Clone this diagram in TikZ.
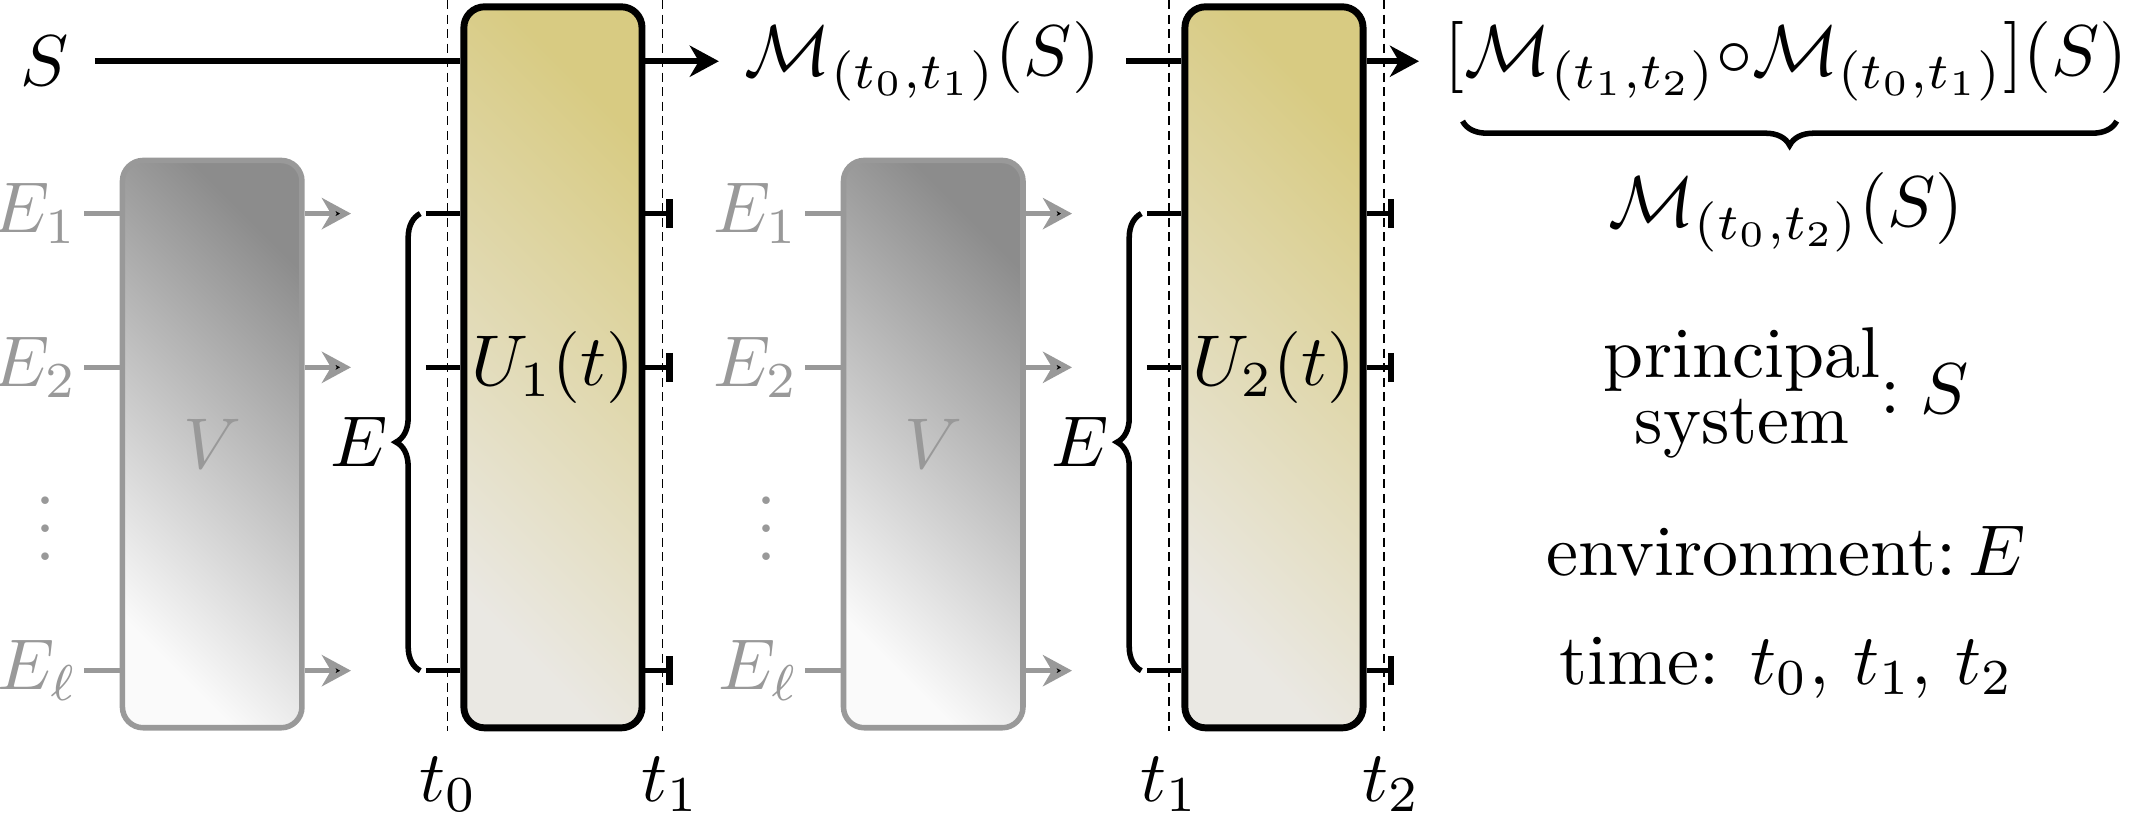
\RequirePackage{fix-cm}
\documentclass[tikz,border=0pt]{standalone}
\usepackage{amsmath,amssymb}
\usepackage{tikz}
\usepackage{xcolor}
\usetikzlibrary{arrows,arrows.meta}
\usetikzlibrary{shapes,backgrounds,decorations.pathreplacing}

\definecolor{ublock}{HTML}{D8CB82}
\definecolor{ublocklow}{HTML}{EAE8E3}
\definecolor{vblock}{HTML}{8C8C8C}
\definecolor{vblocklow}{HTML}{FAFAFA}
\definecolor{envgray}{HTML}{999999}

\begin{document}
\begin{tikzpicture}[-,>={Stealth[length=4.2pt,width=4.5pt,inset=1.3pt]},thick,
    font=\fontsize{10.4}{12.5}\selectfont,
    unitary/.style={rectangle,draw=black,line width=1pt,rounded corners=3pt,
      minimum width=0.905cm,minimum height=3.663cm,inner sep=0pt,
      top color=ublock,bottom color=ublocklow,shading angle=-45},
    noise/.style={rectangle,draw=envgray,line width=0.8pt,rounded corners=3pt,
      minimum width=0.912cm,minimum height=2.882cm,inner sep=0pt,text=envgray,
      top color=vblock,bottom color=vblocklow,shading angle=-45},
    env label/.style={text=envgray,anchor=east,inner sep=0.5pt},
    env wire/.style={draw=envgray,line width=0.75pt},
    sys wire/.style={line width=0.8pt},
    env stub/.style={line width=0.8pt},
    cut/.style={-{Bar[width=4.2pt,line width=1pt]}},
    time line/.style={line width=0.25pt,dash pattern=on 1.3pt off 0.8pt},
    side brace/.style={decorate,line width=0.8pt,decoration={brace,amplitude=3.5pt}}]

  \useasboundingbox (0,0) rectangle (10.836,-4.126);

  % first step
  \node (S) at (0.228,-0.311) {$S$};
  \node[noise] (V1) at (1.078,-2.256) {$V$};
  \node[unitary] (U1) at (2.809,-1.866) {$U_1(t)$};
  \node[env label] (E11) at (0.428,-1.085) {$E_1$};
  \node[env label] (E12) at (0.428,-1.866) {$E_2$};
  \node[env label] (E1l) at (0.428,-3.407) {$E_\ell$};
  \node[text=envgray,inner sep=0pt] (D1) at (0.232,-2.58) {$\vdots$};
  \node (E1) at (1.824,-2.246) {$E$};
  \node (t0) at (2.28,-3.985) {$t_0$};
  \node (t1) at (3.407,-3.985) {$t_1$};
  \node (M1) at (4.686,-0.311) {$\mathcal{M}_{(t_0,t_1)}(S)$};

  \coordinate (o11) at (1.783,-1.085);
  \coordinate (o12) at (1.783,-1.866);
  \coordinate (o1l) at (1.783,-3.407);
  \coordinate (a11) at (2.163,-1.085);
  \coordinate (a12) at (2.163,-1.866);
  \coordinate (a1l) at (2.163,-3.407);
  \coordinate (b11) at (3.421,-1.085);
  \coordinate (b12) at (3.421,-1.866);
  \coordinate (b1l) at (3.421,-3.407);
  \coordinate (g0) at (2.274,0);
  \coordinate (g1) at (3.366,0);

  % second step
  \node[noise] (V2) at (4.741,-2.256) {$V$};
  \node[unitary] (U2) at (6.472,-1.866) {$U_2(t)$};
  \node[env label] (E21) at (4.091,-1.085) {$E_1$};
  \node[env label] (E22) at (4.091,-1.866) {$E_2$};
  \node[env label] (E2l) at (4.091,-3.407) {$E_\ell$};
  \node[text=envgray,inner sep=0pt] (D2) at (3.895,-2.58) {$\vdots$};
  \node (E2) at (5.487,-2.246) {$E$};
  \node (t1b) at (5.943,-3.985) {$t_1$};
  \node (t2) at (7.07,-3.985) {$t_2$};
  \node (M2) at (9.074,-0.311) {$[\mathcal{M}_{(t_1,t_2)}{\circ}\mathcal{M}_{(t_0,t_1)}](S)$};
  \node (M02) at (9.074,-1.078) {$\mathcal{M}_{(t_0,t_2)}(S)$};

  \coordinate (o21) at (5.446,-1.085);
  \coordinate (o22) at (5.446,-1.866);
  \coordinate (o2l) at (5.446,-3.407);
  \coordinate (a21) at (5.826,-1.085);
  \coordinate (a22) at (5.826,-1.866);
  \coordinate (a2l) at (5.826,-3.407);
  \coordinate (b21) at (7.084,-1.085);
  \coordinate (b22) at (7.084,-1.866);
  \coordinate (b2l) at (7.084,-3.407);
  \coordinate (g1b) at (5.937,0);
  \coordinate (g2) at (7.029,0);

  % legend
  \node (role) at (9.074,-2.01) {\renewcommand{\arraystretch}{0.77}%
    \begin{tabular}{@{}c@{}}principal\\system\end{tabular}$: S$};
  \node (env) at (9.074,-2.80) {environment:\,$E$};
  \node (time) at (9.074,-3.39) {time: $t_0$, $t_1$, $t_2$};

  % time slices
  \path[time line]
    (g0) edge (g0 |- t0.north)
    (g1) edge (g1 |- t1.north)
    (g1b) edge (g1b |- t1b.north)
    (g2) edge (g2 |- t2.north);

  % principal system
  \path[sys wire]
    (S) edge (S -| U1.west)
    (M1 -| U1.east) edge[->] (M1)
    (M1) edge (M1 -| U2.west)
    (M2 -| U2.east) edge[->] (M2);

  % environments
  \path[env wire]
    (E11) edge (E11 -| V1.west)
    (E12) edge (E12 -| V1.west)
    (E1l) edge (E1l -| V1.west)
    (o11 -| V1.east) edge[->] (o11)
    (o12 -| V1.east) edge[->] (o12)
    (o1l -| V1.east) edge[->] (o1l)
    (E21) edge (E21 -| V2.west)
    (E22) edge (E22 -| V2.west)
    (E2l) edge (E2l -| V2.west)
    (o21 -| V2.east) edge[->] (o21)
    (o22 -| V2.east) edge[->] (o22)
    (o2l -| V2.east) edge[->] (o2l);

  \path[env stub]
    (a11) edge (a11 -| U1.west)
    (a12) edge (a12 -| U1.west)
    (a1l) edge (a1l -| U1.west)
    (b11 -| U1.east) edge[cut] (b11)
    (b12 -| U1.east) edge[cut] (b12)
    (b1l -| U1.east) edge[cut] (b1l)
    (a21) edge (a21 -| U2.west)
    (a22) edge (a22 -| U2.west)
    (a2l) edge (a2l -| U2.west)
    (b21 -| U2.east) edge[cut] (b21)
    (b22 -| U2.east) edge[cut] (b22)
    (b2l -| U2.east) edge[cut] (b2l);

  % braces
  \draw[side brace] ([xshift=-0.028cm]a1l) -- ([xshift=-0.028cm]a11);
  \draw[side brace] ([xshift=-0.028cm]a2l) -- ([xshift=-0.028cm]a21);
  \draw[side brace] (10.753,-0.615) -- (7.43,-0.615);
\end{tikzpicture}
\end{document}
